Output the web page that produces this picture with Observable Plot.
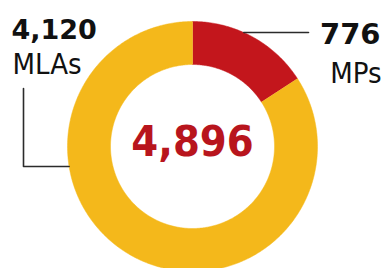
<!DOCTYPE html>
<html><head><meta charset="utf-8">
<script src="https://cdn.jsdelivr.net/npm/d3@7"></script>
<script src="https://cdn.jsdelivr.net/npm/@observablehq/plot@0.6"></script>
<style>html,body{margin:0;padding:0;background:#fff;overflow:hidden}</style>
</head><body><div id="chart"></div>
<script>
// ---- data ----
const categories = ["MPs", "MLAs"];
const values = [776, 4120];
const valueLabels = ["776", "4,120"];
const totalLabel = "4,896";
const colors = ["#c3161c", "#f4b81b"];

// ---- layout ----
const W = 382, H = 268;
const cx = 192, cy = 146, rOuter = 125, rInner = 82;

const pieData = d3.pie().sort(null).value(d => d.value)(
  categories.map((c, i) => ({category: c, value: values[i]}))
);
const polar = (r, t) => ({x: cx + r * Math.sin(t), y: cy - r * Math.cos(t)});
const ring = [];
for (const a of pieData) {
  const n = Math.max(12, Math.ceil((a.endAngle - a.startAngle) * 80));
  for (let k = 0; k <= n; k++) {
    const t = a.startAngle + (a.endAngle - a.startAngle) * k / n;
    ring.push({category: a.data.category, ...polar(rOuter, t)});
  }
  for (let k = n; k >= 0; k--) {
    const t = a.startAngle + (a.endAngle - a.startAngle) * k / n;
    ring.push({category: a.data.category, ...polar(rInner, t)});
  }
}

// leader lines: end on the outer edge of the ring
const edgeX = (y, side) => cx + side * Math.sqrt(rOuter * rOuter - (y - cy) * (y - cy));
const mlaY = 166, mpY = 32;
const leaders = [
  {id: "MLAs", x: 23, y: 88}, {id: "MLAs", x: 23, y: mlaY}, {id: "MLAs", x: edgeX(mlaY, -1), y: mlaY},
  {id: "MPs", x: edgeX(mpY, 1), y: mpY}, {id: "MPs", x: 308, y: mpY}
];

const numLabels = [
  {text: valueLabels[1], x: 11, y: 38},
  {text: valueLabels[0], x: 380, y: 43}
];
const catLabels = [
  {text: categories[1], x: 12, y: 73},
  {text: categories[0], x: 381, y: 82}
];

const numFont = "DejaVu Sans, sans-serif";
const catFont = "DejaVu Sans Condensed, sans-serif";

const chart = Plot.plot({
  width: W, height: H,
  margin: 0,
  x: {domain: [0, W], range: [0, W], axis: null},
  y: {domain: [0, H], range: [0, H], axis: null},
  color: {domain: categories, range: colors},
  style: {background: "#fff"},
  marks: [
    Plot.line(ring, {x: "x", y: "y", z: "category", fill: "category", stroke: "category", strokeWidth: 0.5, curve: "linear"}),
    Plot.line(leaders, {x: "x", y: "y", z: "id", stroke: "#2b2b2b", strokeWidth: 1.6, curve: "linear"}),
    Plot.text([totalLabel], {x: () => cx, y: () => 155, text: d => d, textAnchor: "middle", lineAnchor: "bottom",
      fill: "#b8151d", fontFamily: "DejaVu Sans Condensed, DejaVu Sans, sans-serif", fontWeight: "bold", fontSize: 43}),
    Plot.text(numLabels.slice(0,1), {x: "x", y: "y", text: "text", textAnchor: "start", lineAnchor: "bottom",
      fill: "#111", fontFamily: numFont, fontWeight: 900, fontSize: 27, letterSpacing: -0.5}),
    Plot.text(numLabels.slice(1), {x: "x", y: "y", text: "text", textAnchor: "end", lineAnchor: "bottom",
      fill: "#111", fontFamily: numFont, fontWeight: 900, fontSize: 29}),
    Plot.text(catLabels.slice(0,1), {x: "x", y: "y", text: "text", textAnchor: "start", lineAnchor: "bottom",
      fill: "#111", fontFamily: catFont, fontSize: 29}),
    Plot.text(catLabels.slice(1), {x: "x", y: "y", text: "text", textAnchor: "end", lineAnchor: "bottom",
      fill: "#111", fontFamily: catFont, fontSize: 29})
  ]
});
document.getElementById("chart").append(chart);
</script>
</body></html>
